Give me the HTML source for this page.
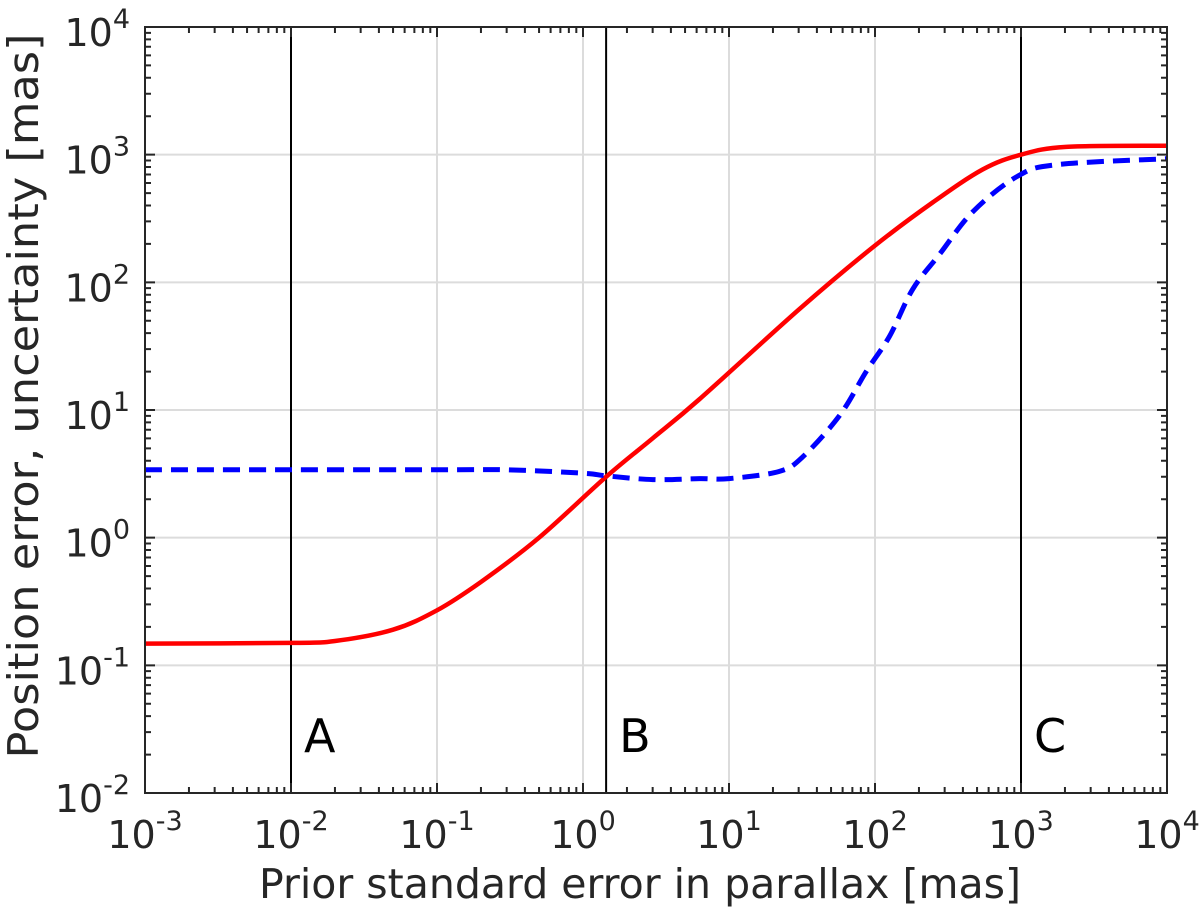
<!DOCTYPE html>
<html><head><meta charset="utf-8"><style>
body{margin:0;background:#fff;}
svg text{font-family:"DejaVu Sans","Liberation Sans",sans-serif;fill:#262626;}
</style></head><body>
<svg id="chart" width="1200" height="910" xmlns="http://www.w3.org/2000/svg">
<g id="grid"></g>
<g id="vlines"></g>
<g id="series"></g>
<g id="axes"></g>
<text x="640" y="898" font-size="41" text-anchor="middle" textLength="762" lengthAdjust="spacingAndGlyphs">Prior standard error in parallax [mas]</text>
<text transform="translate(38,396) rotate(-90)" font-size="42" text-anchor="middle" textLength="725" lengthAdjust="spacingAndGlyphs">Position error, uncertainty [mas]</text>
</svg>
<script>
const xTicks=[-3,-2,-1,0,1,2,3,4];
const yTicks=[-2,-1,0,1,2,3,4];
const regionX=[0.01,1.44,1000];
const regionLabels=["A","B","C"];
const redX=[0.001,0.01,0.02,0.05,0.1,0.2,0.5,1.44,3,6.3,30,96,248,546,1000,2040,10000];
const redY=[0.148,0.15,0.155,0.19,0.27,0.45,1.0,3.0,6,12.2,61,187,422,765,1000,1150,1175];
const blueX=[0.001,0.01,0.1,0.3,1,1.44,3,6.3,10,22,32,57,87,126,181,277,470,940,1750,10000];
const blueY=[3.4,3.4,3.4,3.4,3.2,3.05,2.85,2.9,2.9,3.3,4.3,9,20,38,88,166,359,675,835,930];
const L=145,R=1167,T=27,B=793;
const X=v=>L+(Math.log10(v)+3)/7*(R-L);
const Y=v=>B-(Math.log10(v)+2)/6*(B-T);
const NS="http://www.w3.org/2000/svg";
function mk(tag,parent,attrs){const e=document.createElementNS(NS,tag);for(const k in attrs)e.setAttribute(k,attrs[k]);document.getElementById(parent).appendChild(e);return e;}
xTicks.forEach(p=>{const x=X(10**p);
 const g=mk('line','grid',{x1:x,x2:x,y1:T,y2:B,stroke:'#dcdcdc','stroke-width':2});
 
 const t=mk('text','axes',{x:x,y:848,'font-size':38,'text-anchor':'middle'});
 
 t.innerHTML='10<tspan dy="-18" font-size="27">'+p+'</tspan>';
});
yTicks.forEach(p=>{const y=Y(10**p);
 const g=mk('line','grid',{x1:L,x2:R,y1:y,y2:y,stroke:'#dcdcdc','stroke-width':2});
 
 const t=mk('text','axes',{x:130,y:y+19,'font-size':38,'text-anchor':'end'});
 
 t.innerHTML='10<tspan dy="-18" font-size="27">'+p+'</tspan>';
});
let d='';
for(let p=-3;p<4;p++)for(let m=1;m<10;m++){const x=X(m*10**p);const l=m==1?10:6;d+=`M${x},${B}v${-l}M${x},${T}v${l}`;}
for(let p=-2;p<4;p++)for(let m=1;m<10;m++){const y=Y(m*10**p);const l=m==1?10:6;d+=`M${L},${y}h${l}M${R},${y}h${-l}`;}
const tk=mk('path','axes',{d:d,stroke:'#262626','stroke-width':2,fill:'none'});

const fr=mk('rect','axes',{x:L,y:T,width:R-L,height:B-T,fill:'none',stroke:'#262626','stroke-width':2});

regionX.forEach((v,i)=>{const x=X(v);
 const l=mk('line','vlines',{x1:x,x2:x,y1:T,y2:B,stroke:'#000','stroke-width':2});
 
 const t=mk('text','vlines',{x:x+13,y:752,'font-size':46});
 
 t.textContent=regionLabels[i];t.style.fill='#000';
});
function pathOf(xs,ys){
 const p=xs.map((v,i)=>[X(v),Y(ys[i])]);
 let s='M'+p[0][0].toFixed(1)+','+p[0][1].toFixed(1);
 for(let i=0;i<p.length-1;i++){
  const p0=p[Math.max(0,i-1)],p1=p[i],p2=p[i+1],p3=p[Math.min(p.length-1,i+2)];
  const c1=[p1[0]+(p2[0]-p0[0])/6,p1[1]+(p2[1]-p0[1])/6];
  const c2=[p2[0]-(p3[0]-p1[0])/6,p2[1]-(p3[1]-p1[1])/6];
  s+=`C${c1[0].toFixed(1)},${c1[1].toFixed(1)} ${c2[0].toFixed(1)},${c2[1].toFixed(1)} ${p2[0].toFixed(1)},${p2[1].toFixed(1)}`;
 }
 return s;}
const red=mk('path','series',{d:pathOf(redX,redY),stroke:'#ff0000','stroke-width':4.5,fill:'none','stroke-linejoin':'round'});

const blue=mk('path','series',{d:pathOf(blueX,blueY),stroke:'#0000ff','stroke-width':5,fill:'none','stroke-dasharray':'17 9'});

</script>
</body></html>
